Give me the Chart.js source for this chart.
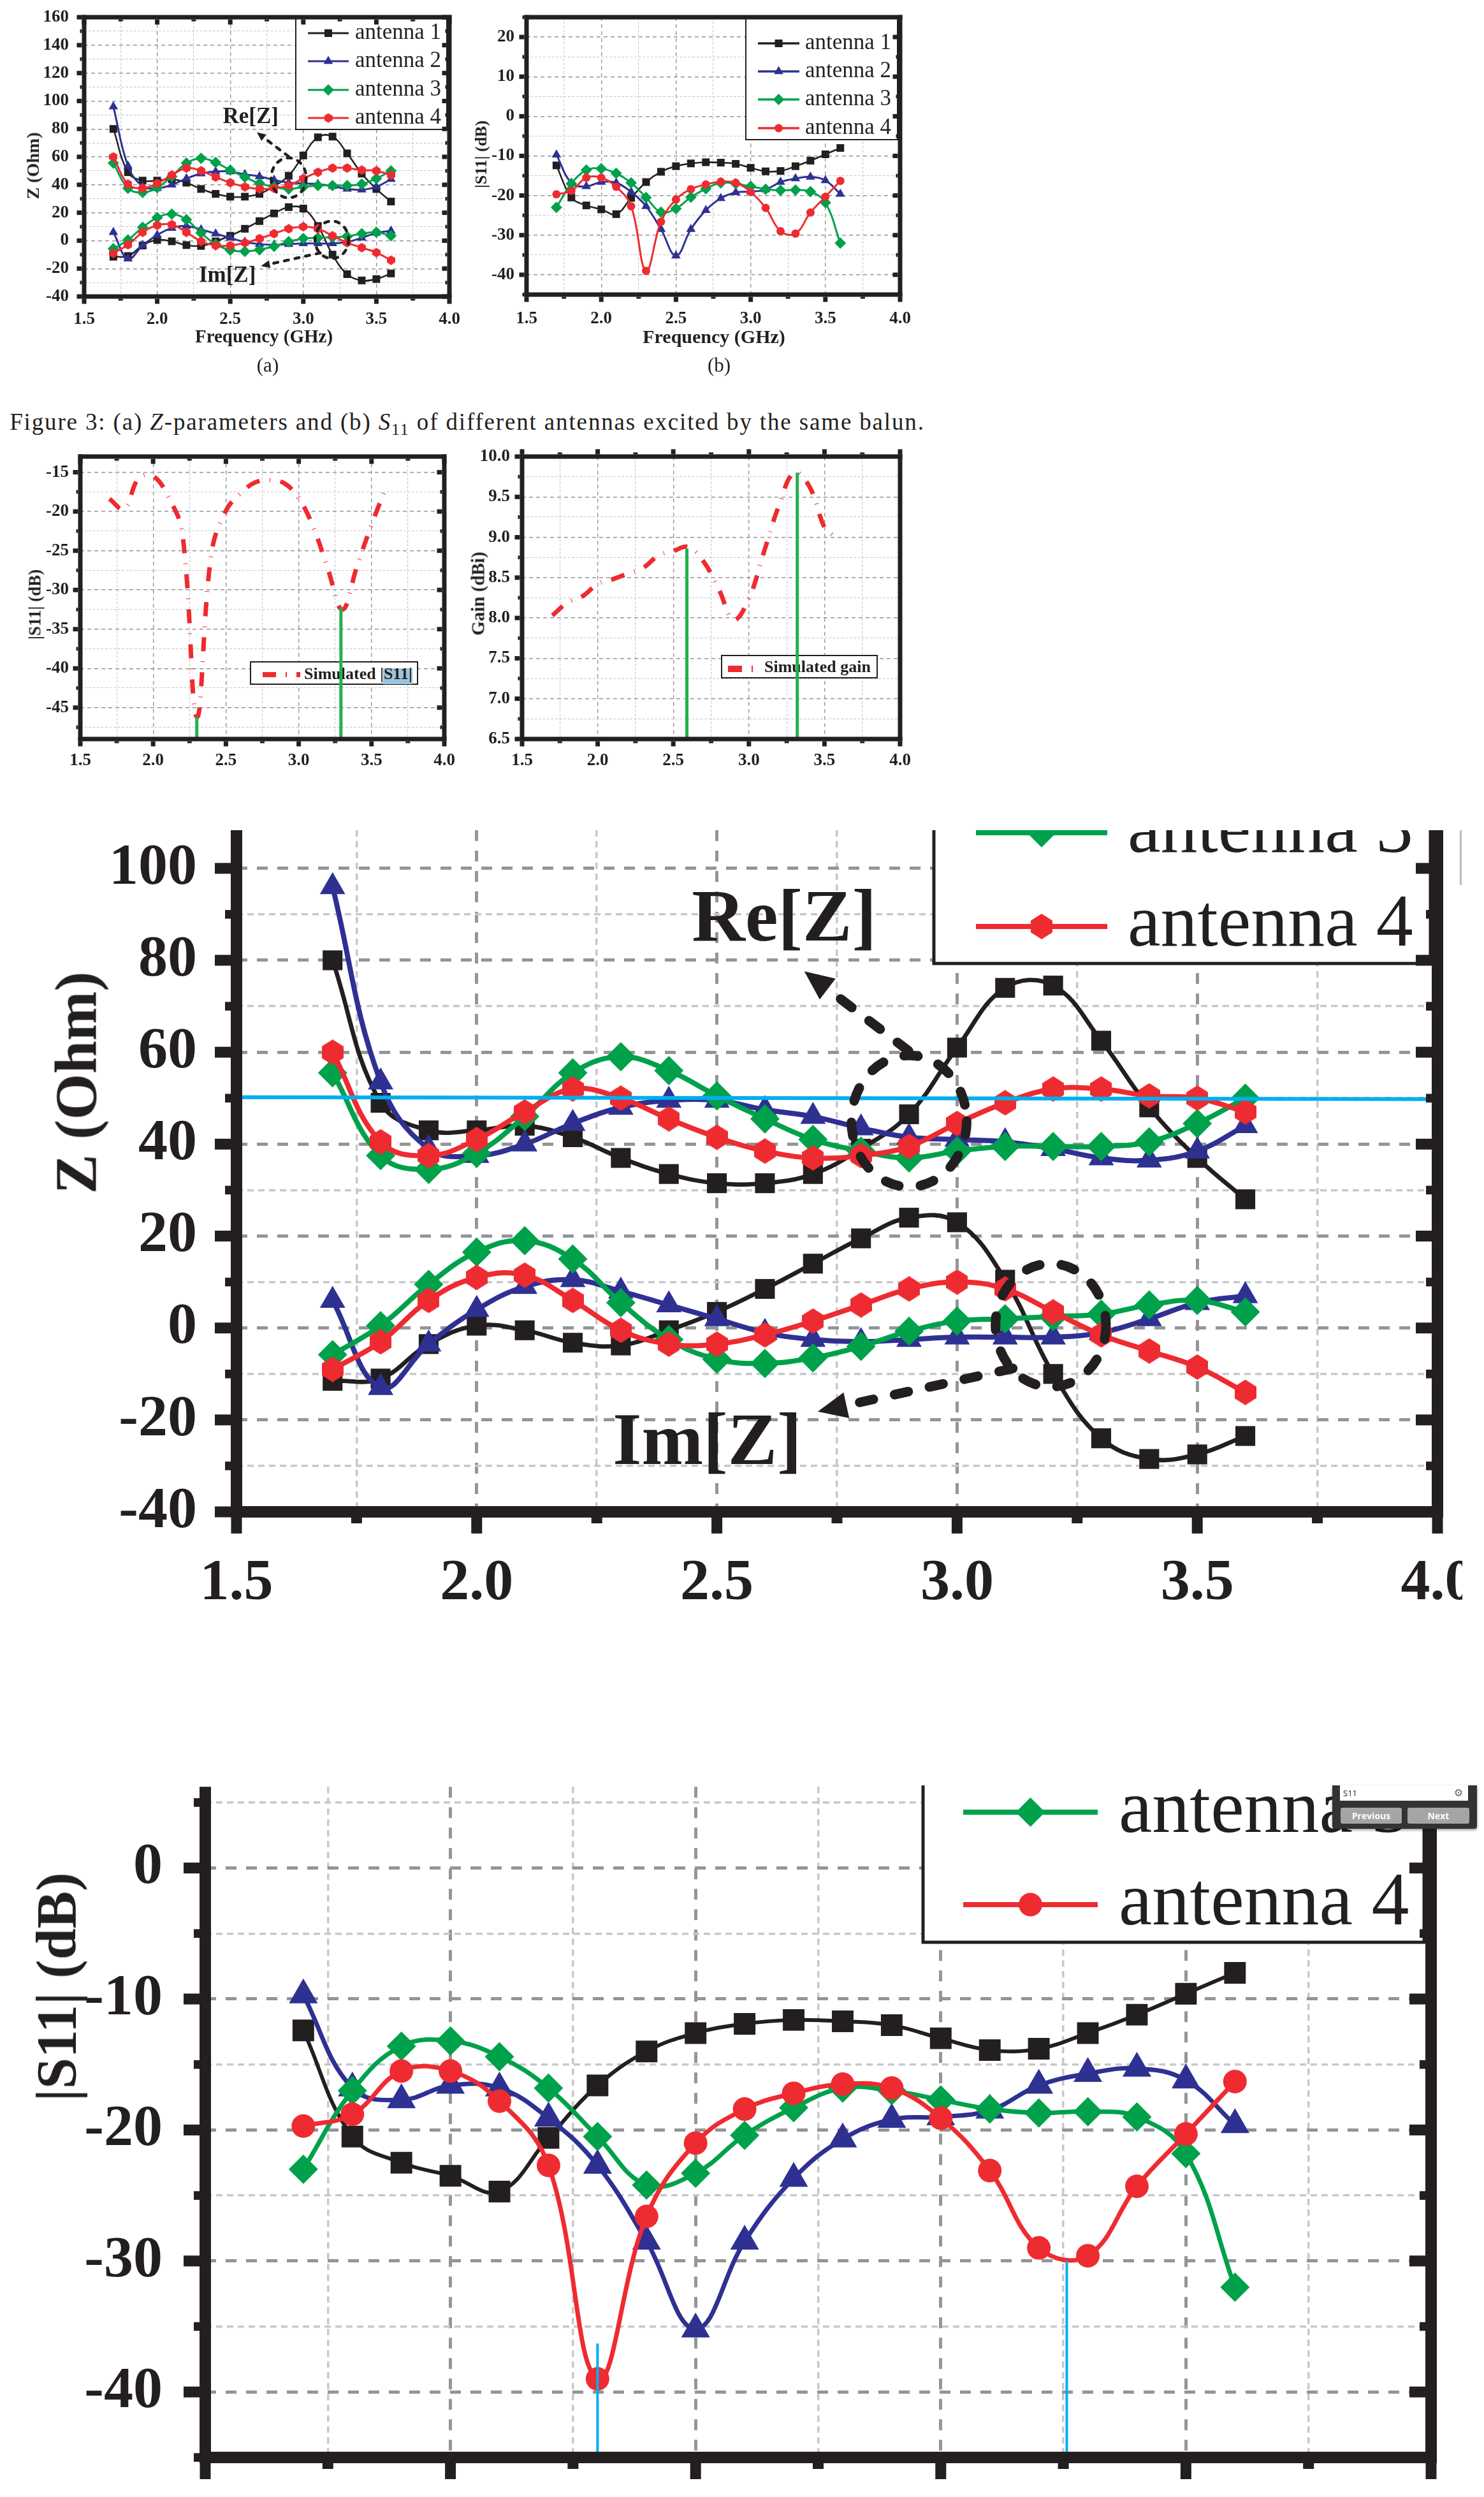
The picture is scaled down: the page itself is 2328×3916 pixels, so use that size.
<!DOCTYPE html>
<html>
<head>
<meta charset="utf-8">
<title>Z-parameters and S11</title>
<script src="https://cdn.jsdelivr.net/npm/chart.js@4/dist/chart.umd.js"></script>
<style>
html, body { margin: 0; padding: 0; background: #fff; }
#page { position: relative; width: 2328px; height: 3916px; overflow: hidden; background: #fff; font-family: "Liberation Serif", serif; color: #231f20; }
.clip { position: absolute; overflow: hidden; }
.clip canvas { position: absolute; }
.lbl { position: absolute; white-space: nowrap; transform: translate(-50%, -50%); line-height: 1; }
.lbl.rot { transform: translate(-50%, -50%) rotate(-90deg); }
#popup { position: absolute; left: 2090px; top: 2800px; width: 227px; height: 68px; background: #333; border-radius: 0 0 4px 4px; box-shadow: 0 2px 4px rgba(0,0,0,.4); font-family: "Open Sans", sans-serif; }
#popup .head { position: absolute; left: 12px; top: 0; width: 201px; height: 24px; background: #fff; color: #222; font-size: 13px; line-height: 24px; }
#popup .head span { margin-left: 5px; }
#popup .gear { position: absolute; right: 8px; top: 0; font-family: "DejaVu Sans"; font-size: 16px; color: #666; line-height: 24px; }
#popup .btn { position: absolute; top: 35px; height: 25px; background: #a5a5a5; border-radius: 3px; color: #fff; font-weight: 700; font-size: 14px; line-height: 25px; text-align: center; }
</style>
</head>
<body>
<div id="page"></div>
<script>
/*===== DATA =====*/

const freq = [1.7, 1.8, 1.9, 2.0, 2.1, 2.2, 2.3, 2.4, 2.5, 2.6, 2.7, 2.8, 2.9, 3.0, 3.1, 3.2, 3.3, 3.4, 3.5, 3.6];
const seriesNames = ["antenna 1", "antenna 2", "antenna 3", "antenna 4"];

const reZ1 = [80, 49, 43, 43, 44, 41.5, 37, 33.5, 31.5, 31.5, 33.5, 39, 46.5, 61, 74, 74.5, 62.5, 48, 37, 28];
const reZ2 = [96, 53.5, 39, 37.5, 40, 44.5, 48, 49.5, 49.5, 47.5, 46, 43.5, 41.5, 41, 40.5, 39, 37, 36.5, 38.5, 44];
const reZ3 = [55.5, 37.5, 34.5, 38, 46, 55.5, 59, 56, 50.5, 45.5, 41, 38.5, 37, 38.5, 39.5, 39.5, 39.5, 40.5, 44.5, 50];
const reZ4 = [60, 40.5, 37.5, 41, 47, 52, 50, 45.5, 41.5, 38.5, 37, 37.5, 39.5, 44.5, 49, 52, 52, 50.5, 50, 47];

const imZ1 = [-11.5, -11, -3.5, 0.5, -0.5, -3.2, -3.8, -0.5, 3.5, 8.5, 14, 19.5, 24, 23, 10.5, -10, -24, -28.5, -27.5, -23.5];
const imZ2 = [6, -13, -3.5, 4, 9, 10.5, 8, 5, 2, -1, -2.5, -3, -2.5, -2, -2, -2, -1, 2, 5.5, 7];
const imZ3 = [-5.8, 0.5, 9.5, 16.5, 19, 15, 5.5, -2.5, -6.8, -7.7, -6.5, -4, -0.7, 1.5, 2, 2.5, 3, 5, 6, 3.5];
const imZ4 = [-9, -3, 6, 11, 11.5, 6, -0.5, -3.5, -3.5, -1.5, 1.5, 5, 8.5, 10, 8.5, 3.5, -1.5, -5, -8.5, -14];

const s11Ant1 = [-12.4, -20.5, -22.5, -23.5, -24.7, -20.6, -16.6, -14, -12.6, -11.9, -11.6, -11.7, -12, -13, -13.9, -13.8, -12.6, -11.2, -9.6, -8];
const s11Ant2 = [-9.7, -16.8, -17.7, -16.6, -16.8, -19.1, -22.7, -28.5, -35.2, -28.5, -23.7, -20.7, -19.2, -19, -18.5, -16.6, -15.7, -15.3, -16.2, -19.6];
const s11Ant3 = [-23, -17, -13.6, -13.2, -14.4, -16.8, -20.5, -24.2, -23.3, -20.4, -18.3, -16.8, -17, -17.7, -18.4, -18.7, -18.6, -19, -21.8, -32];
const s11Ant4 = [-19.7, -18.8, -15.5, -15.5, -17.8, -22.7, -39, -26.6, -21, -18.4, -17.2, -16.5, -16.8, -19.1, -23.1, -29, -29.6, -24.3, -20.3, -16.3];

const simS11 = [-18.4, -19.7, -15.8, -15.5, -18, -22.7, -46.2, -25.4, -19.9, -17.7, -16.3, -16, -16.4, -18.3, -22, -27.3, -32.5, -27, -21.7, -16.9];

const gainFreq = [1.7, 1.8, 1.9, 2.0, 2.1, 2.2, 2.3, 2.4, 2.5, 2.6, 2.7, 2.8, 2.9, 3.0, 3.1, 3.2, 3.3, 3.4, 3.5, 3.55];
const simGain = [8.03, 8.19, 8.27, 8.42, 8.48, 8.55, 8.62, 8.77, 8.83, 8.88, 8.7, 8.36, 7.98, 8.24, 8.82, 9.4, 9.8, 9.63, 9.12, 9.03];

// marker lines: [frequency, value the line stops at]
const s11Marks = [[2.3, -46.2], [3.29, -32.2]];
const gainMarks = [[2.59, 8.86], [3.32, 9.8]];
const zoomS11Marks = [[2.3, -36.3], [3.257, -30]];
const refLineX = [1.5, 4];
const refLineY = [50.2, 49.8];

/*===== STYLES =====*/

const BLACK = "#231f20", BLUE = "#2e3192", GREEN = "#00a14b", RED = "#ee2b30", SKY = "#00aeef", MARK_GREEN = "#22b14c";
const page = document.getElementById("page");

function hexagon(w, h, color) {
    var c = document.createElement("canvas");
    c.width = w; c.height = h;
    var g = c.getContext("2d");
    g.fillStyle = color;
    g.beginPath();
    g.moveTo(w / 2, 0); g.lineTo(w, h * 0.27); g.lineTo(w, h * 0.73);
    g.lineTo(w / 2, h); g.lineTo(0, h * 0.73); g.lineTo(0, h * 0.27);
    g.closePath(); g.fill();
    return c;
}

const markersSmall = { rect: 8.5, triangle: 8.5, rectRot: 9 };
const markersBig = { rect: 22, triangle: 23, rectRot: 23 };
const markersF = { rect: 24, triangle: 26, rectRot: 23 };

function antennaSeries(lists, marks, red, width) {
    var colors = [BLACK, BLUE, GREEN, RED];
    var shapes = ["rect", "triangle", "rectRot", red.style];
    var out = [];
    lists.forEach((values, i) => {
        out.push({
            label: seriesNames[i],
            data: values.map((v, k) => ({ x: freq[k], y: v })),
            borderColor: colors[i],
            backgroundColor: colors[i],
            borderWidth: i === 0 ? width * 0.85 : width,
            tension: 0.4,
            pointStyle: shapes[i],
            pointRadius: i === 3 ? red.radius : marks[shapes[i]],
            pointBorderWidth: 0,
            pointHoverRadius: i === 3 ? red.radius : marks[shapes[i]]
        });
    });
    return out;
}

function markLines(marks, color, width, bottom) {
    return marks.map(m => ({
        label: "marker",
        data: [{ x: m[0], y: m[1] }, { x: m[0], y: bottom }],
        borderColor: color, borderWidth: width, pointRadius: 0, tension: 0
    }));
}

function dashedSeries(xs, ys, label) {
    return {
        label: label,
        data: ys.map((v, k) => ({ x: xs[k], y: v })),
        borderColor: RED, borderWidth: 7, borderDash: [22, 16, 1, 16],
        tension: 0.4, pointRadius: 0
    };
}

/*===== PLUGINS =====*/

const nearly = (v, step) => Math.abs(v / step - Math.round(v / step)) < 1e-6;

const framePlugin = {
    id: "frame",
    afterDatasetsDraw(chart, args, o) {
        const { ctx, chartArea: a, scales: { x, y } } = chart;
        const t = o.bar, hb = t / 2;
        ctx.save();
        ctx.fillStyle = BLACK;
        ctx.fillRect(a.left - hb, a.bottom - hb, a.right - a.left + t, t);
        if (o.top) ctx.fillRect(a.left - hb, a.top - hb, a.right - a.left + t, t);
        ctx.fillRect(a.left - hb, a.top - (o.top ? hb : 0), t, a.bottom - a.top + (o.top ? t : 0));
        ctx.fillRect(a.right - hb, a.top - (o.top ? hb : 0), t, a.bottom - a.top + (o.top ? t : 0));
        x.ticks.forEach(tk => {
            const len = nearly(tk.value, 0.5) ? o.major : o.minor, px = x.getPixelForValue(tk.value);
            ctx.fillRect(px - o.tick / 2, a.bottom + hb, o.tick, len);
            if (o.topTicks === "in") ctx.fillRect(px - o.tick / 2, a.top + hb, o.tick, len);
            if (o.topTicks === "out") ctx.fillRect(px - o.tick / 2, a.top - hb - len, o.tick, len);
        });
        y.ticks.forEach(tk => {
            const maj = nearly(tk.value, o.yMajor), len = maj ? o.major : o.minor, px = y.getPixelForValue(tk.value);
            const th = maj ? o.tick : o.tick * 0.8;
            ctx.fillRect(a.left - hb - len, px - th / 2, len, th);
            if (o.rightTicks) ctx.fillRect(a.right - hb - len, px - th / 2, len, th);
        });
        ctx.restore();
    }
};

// legend box placed at fixed page position, white backed
const boxPlugin = {
    id: "box",
    beforeDatasetsDraw(chart, args, o) {
        if (!o.rect) return;
        const ctx = chart.ctx, ox = o.originX, oy = o.originY, r = o.rect;
        ctx.save();
        ctx.fillStyle = "#fff";
        ctx.strokeStyle = BLACK;
        ctx.lineWidth = o.border;
        ctx.fillRect(r[0] - ox, r[1] - oy, r[2] - r[0], r[3] - r[1]);
        ctx.strokeRect(r[0] - ox, r[1] - oy, r[2] - r[0], r[3] - r[1]);
        if (o.highlight) {
            ctx.fillStyle = "#9dc3dd";
            ctx.fillRect(o.highlight[0] - ox, o.highlight[1] - oy, o.highlight[2], o.highlight[3]);
        }
        ctx.textBaseline = "middle";
        ctx.textAlign = "left";
        ctx.font = o.font;
        (o.rows || []).forEach(row => {
            ctx.strokeStyle = row.color;
            ctx.lineWidth = o.lineWidth;
            ctx.beginPath();
            ctx.moveTo(o.line[0] - ox, row.y - oy);
            ctx.lineTo(o.line[1] - ox, row.y - oy);
            ctx.stroke();
            ctx.fillStyle = row.color;
            Chart.helpers.drawPoint(ctx, { pointStyle: row.style, radius: row.radius, borderWidth: 0, rotation: 0 }, (o.line[0] + o.line[1]) / 2 - ox, row.y - oy);
            ctx.fillStyle = BLACK;
            ctx.fillText(row.text, o.textX - ox, row.y - oy);
        });
        (o.samples || []).forEach(s => {
            ctx.fillStyle = RED;
            ctx.fillRect(s[0] - ox, s[1] - oy, s[2], s[3]);
        });
        if (o.sampleText) {
            ctx.fillStyle = BLACK;
            ctx.fillText(o.sampleText, o.textX - ox, o.textY - oy);
        }
        ctx.restore();
    }
};

// Re[Z] and Im[Z] callouts, given in axis values so they fit both Z panels
const calloutPlugin = {
    id: "callout",
    afterDatasetsDraw(chart, args, o) {
        if (!o.on) return;
        const { ctx, scales: { x, y } } = chart;
        const k = o.scale;
        function arrow(x0, y0, x1, y1) {
            const ax = x.getPixelForValue(x0), ay = y.getPixelForValue(y0);
            const bx = x.getPixelForValue(x1), by = y.getPixelForValue(y1);
            const ang = Math.atan2(by - ay, bx - ax), head = 42 * k;
            ctx.beginPath();
            ctx.moveTo(ax, ay);
            ctx.lineTo(bx - Math.cos(ang) * head, by - Math.sin(ang) * head);
            ctx.stroke();
            ctx.save();
            ctx.setLineDash([]);
            ctx.beginPath();
            ctx.moveTo(bx, by);
            ctx.lineTo(bx - Math.cos(ang - 0.42) * head * 1.2, by - Math.sin(ang - 0.42) * head * 1.2);
            ctx.lineTo(bx - Math.cos(ang + 0.42) * head * 1.2, by - Math.sin(ang + 0.42) * head * 1.2);
            ctx.closePath();
            ctx.fill();
            ctx.restore();
        }
        function ring(cx, cy, rx, ry) {
            const px = x.getPixelForValue(cx), py = y.getPixelForValue(cy);
            ctx.beginPath();
            ctx.ellipse(px, py, Math.abs(x.getPixelForValue(cx + rx) - px), Math.abs(y.getPixelForValue(cy + ry) - py), 0, 0, Math.PI * 2);
            ctx.stroke();
        }
        ctx.save();
        ctx.strokeStyle = BLACK;
        ctx.fillStyle = BLACK;
        ctx.lineWidth = 15 * k;
        ctx.lineCap = "round";
        ctx.setLineDash([22 * k, 34 * k]);
        ring(2.9, 45, 0.12, 14.3);
        ring(3.195, 0.6, 0.115, 13.4);
        arrow(2.899, 60.3, 2.682, 77.6);
        arrow(3.116, -8.8, 2.71, -18.2);
        ctx.setLineDash([]);
        ctx.textAlign = "center";
        ctx.textBaseline = "alphabetic";
        ctx.font = "bold " + Math.round(116 * k) + "px 'Liberation Serif'";
        ctx.fillText("Re[Z]", x.getPixelForValue(2.64), y.getPixelForValue(84.3));
        ctx.fillText("Im[Z]", x.getPixelForValue(2.48), y.getPixelForValue(-29.6));
        ctx.restore();
    }
};

/*===== CHARTS =====*/

function makePanel(p) {
    const over = 120;                       // spare canvas above and to the right, cut away by the clip div
    const cl = p.plot[0] - p.yw, ct = p.plot[1] - over;
    const cw = p.plot[2] - cl + over, ch = p.plot[3] - ct + p.xh;
    const clip = document.createElement("div");
    clip.className = "clip";
    clip.style.cssText = "left:" + p.clip[0] + "px;top:" + p.clip[1] + "px;width:" + (p.clip[2] - p.clip[0]) + "px;height:" + (p.clip[3] - p.clip[1]) + "px";
    const cv = document.createElement("canvas");
    cv.width = cw; cv.height = ch;
    cv.style.cssText = "left:" + (cl - p.clip[0]) + "px;top:" + (ct - p.clip[1]) + "px;width:" + cw + "px;height:" + ch + "px";
    clip.appendChild(cv);
    page.appendChild(clip);

    const g = p.grid;
    const gridFor = major => ({
        drawTicks: false,
        color: c => major(c.tick) ? "#939598" : "#c7c8ca",
        lineWidth: c => major(c.tick) ? g.majorW : g.minorW
    });
    const isXMajor = t => t && nearly(t.value, 0.5);
    const isYMajor = t => t && nearly(t.value, p.yMajor);
    const keepInside = s => { s.ticks = s.ticks.filter(t => t.value >= s.min - 1e-9 && t.value <= s.max + 1e-9); };

    new Chart(cv, {
        type: "line",
        data: { datasets: p.datasets },
        options: {
            responsive: false,
            animation: false,
            devicePixelRatio: 1,
            events: [],
            layout: { padding: { top: over, right: over, left: 0, bottom: 0 } },
            scales: {
                x: {
                    type: "linear", min: 1.5, max: 4,
                    afterBuildTicks: keepInside,
                    afterFit: s => { s.height = p.xh; },
                    grid: gridFor(isXMajor),
                    border: { display: false, dash: c => isXMajor(c.tick) ? g.majorDash : g.minorDash },
                    ticks: {
                        stepSize: 0.25, includeBounds: false, autoSkip: false, maxRotation: 0, minRotation: 0,
                        display: p.xLabels, padding: p.xPad, color: BLACK,
                        font: { family: "Liberation Serif", weight: "bold", size: p.font },
                        callback: v => nearly(v, 0.5) ? v.toFixed(1) : ""
                    }
                },
                y: {
                    type: "linear", min: p.yMin, max: p.yMax,
                    afterBuildTicks: keepInside,
                    afterFit: s => { s.width = p.yw; },
                    grid: gridFor(isYMajor),
                    border: { display: false, dash: c => isYMajor(c.tick) ? g.majorDash : g.minorDash },
                    ticks: {
                        stepSize: p.yStep, includeBounds: false, autoSkip: false, padding: p.yPad, color: BLACK,
                        font: { family: "Liberation Serif", weight: "bold", size: p.font },
                        callback: v => nearly(v, p.yMajor) ? p.yFormat(v) : ""
                    }
                }
            },
            plugins: {
                legend: { display: false },
                title: { display: false },
                tooltip: { enabled: false },
                frame: Object.assign({ yMajor: p.yMajor }, p.frame),
                box: Object.assign({ originX: cl, originY: ct }, p.box),
                callout: p.callout || { on: false }
            }
        },
        plugins: [framePlugin, boxPlugin, calloutPlugin]
    });
}

function legendRows(ys, red, marks) {
    const colors = [BLACK, BLUE, GREEN, RED];
    const shapes = ["rect", "triangle", "rectRot", red.style];
    return ys.map((y, i) => ({
        y: y, color: colors[i], text: seriesNames[i], style: shapes[i],
        radius: i === 3 ? red.radius : marks[shapes[i]]
    }));
}

const smallGrid = { majorW: 1.4, minorW: 1.1, majorDash: [6, 5], minorDash: [4, 2.5] };
const bigGrid = { majorW: 5, minorW: 3.5, majorDash: [17, 15], minorDash: [10, 7] };
const smallFrame = { bar: 7, tick: 7, major: 8, minor: 3, top: true, topTicks: "in", rightTicks: true };
const bigFrame = { bar: 18, tick: 17, major: 25, minor: 9, top: false, topTicks: "none", rightTicks: true };

const hexSmall = { style: hexagon(13, 15, RED), radius: 7 };
const hexBig = { style: hexagon(34, 40, RED), radius: 18 };
const dotSmall = { style: "circle", radius: 6.5 };
const dotBig = { style: "circle", radius: 18.5 };

const zSets = (marks, red, width, refColor) => [
    {
        label: "50 ohm", data: refLineX.map((v, k) => ({ x: v, y: refLineY[k] })),
        borderColor: refColor, borderWidth: refColor === SKY ? 6 : 0, pointRadius: 0, tension: 0
    }
].concat(
    antennaSeries([reZ1, reZ2, reZ3, reZ4], marks, red, width).reverse(),
    antennaSeries([imZ1, imZ2, imZ3, imZ4], marks, red, width).reverse()
);

// (a) Z-parameters
makePanel({
    clip: [0, 0, 800, 540], plot: [132, 27, 705, 465], yw: 132, xh: 70, yMin: -40, yMax: 160, yStep: 10, yMajor: 20,
    yFormat: v => String(v), font: 27, yPad: 24, xPad: 20, xLabels: true, grid: smallGrid, frame: smallFrame,
    datasets: zSets(markersSmall, hexSmall, 3, "rgba(0,0,0,0)"),
    callout: { on: true, scale: 0.304 },
    box: { rect: [464, 29, 701, 203], border: 2, line: [483, 547], lineWidth: 3, textX: 557, font: "35px 'Liberation Serif'", rows: legendRows([52, 96, 141, 185], hexSmall, markersSmall) }
});

// (b) S11 of the four antennas
makePanel({
    clip: [700, 0, 1480, 540], plot: [826, 27, 1412, 462], yw: 126, xh: 70, yMin: -45, yMax: 25, yStep: 5, yMajor: 10,
    yFormat: v => String(v), font: 27, yPad: 19, xPad: 22, xLabels: true, grid: smallGrid,
    frame: Object.assign({}, smallFrame, { topTicks: "none" }),
    datasets: antennaSeries([s11Ant1, s11Ant2, s11Ant3, s11Ant4], markersSmall, dotSmall, 3).reverse(),
    box: { rect: [1170, 29, 1408, 219], border: 2, line: [1189, 1254], lineWidth: 3.5, textX: 1263, font: "35px 'Liberation Serif'", rows: legendRows([68, 112, 156, 201], dotSmall, markersSmall) }
});

// simulated S11
makePanel({
    clip: [0, 690, 760, 1215], plot: [126, 716, 697, 1159], yw: 126, xh: 56, yMin: -49, yMax: -13, yStep: 2.5, yMajor: 5,
    yFormat: v => String(v), font: 27, yPad: 18, xPad: 18, xLabels: true, grid: smallGrid, frame: smallFrame,
    datasets: markLines(s11Marks, MARK_GREEN, 5, -49).concat([dashedSeries(freq, simS11, "Simulated |S11|")]),
    box: {
        rect: [393, 1038, 655, 1073], border: 2, textX: 477, textY: 1058, font: "bold 26px 'Liberation Serif'",
        highlight: [601, 1048, 46, 25], samples: [[412, 1054, 21, 8], [448, 1054, 2, 8], [465, 1054, 6, 8]], sampleText: "Simulated |S11|"
    }
});

// simulated gain
makePanel({
    clip: [740, 690, 1480, 1215], plot: [819, 716, 1412, 1159], yw: 79, xh: 56, yMin: 6.5, yMax: 10, yStep: 0.25, yMajor: 0.5,
    yFormat: v => v.toFixed(1), font: 27, yPad: 19, xPad: 18, xLabels: true, grid: smallGrid,
    frame: Object.assign({}, smallFrame, { topTicks: "out", rightTicks: false }),
    datasets: markLines(gainMarks, MARK_GREEN, 5, 6.5).concat([dashedSeries(gainFreq, simGain, "Simulated gain")]),
    box: {
        rect: [1132, 1028, 1376, 1063], border: 2, textX: 1199, textY: 1047, font: "bold 26px 'Liberation Serif'",
        samples: [[1142, 1044, 22, 10], [1179, 1044, 2, 10]], sampleText: "Simulated gain"
    }
});

// enlarged Z-parameters, cut at the top and right
makePanel({
    clip: [0, 1302, 2294, 2512], plot: [371, 1302, 2255, 2371], yw: 371, xh: 140, yMin: -40, yMax: 108.3, yStep: 10, yMajor: 20,
    yFormat: v => String(v), font: 92, yPad: 62, xPad: 58, xLabels: true, grid: bigGrid, frame: bigFrame,
    datasets: zSets(markersBig, hexBig, 8, SKY),
    callout: { on: true, scale: 1 },
    box: { rect: [1465, 1150, 2244, 1511], border: 5, line: [1531, 1737], lineWidth: 8, textX: 1769, font: "116px 'Liberation Serif'", rows: legendRows([1012, 1159, 1306, 1453], hexBig, markersBig) }
});

// enlarged S11, cut at the top, no x labels; the taller canvas is cut by the clip div
makePanel({
    clip: [0, 2800, 2300, 3916], plot: [322, 2800, 2245, 3854], yw: 322, xh: 140, yMin: -45, yMax: 6.2, yStep: 5, yMajor: 10,
    yFormat: v => String(v), font: 92, yPad: 67, xPad: 10, xLabels: false, grid: bigGrid, frame: bigFrame,
    datasets: markLines(zoomS11Marks, SKY, 4, -45).concat(antennaSeries([s11Ant1, s11Ant2, s11Ant3, s11Ant4], markersF, dotBig, 7).reverse()),
    box: { rect: [1448, 2650, 2234, 3046], border: 5, line: [1511, 1722], lineWidth: 8, textX: 1755, font: "118px 'Liberation Serif'", rows: legendRows([2552, 2697, 2842, 2987], dotBig, markersF) }
});

/*===== TEXT =====*/

const labels = [
    { html: "Frequency (GHz)", x: 414, y: 527, size: 29, bold: true },
    { html: "Frequency (GHz)", x: 1120, y: 528, size: 30, bold: true },
    { html: "Z (Ohm)", x: 52, y: 260, size: 28, bold: true, rot: true },
    { html: "|S11| (dB)", x: 755, y: 242, size: 26, bold: true, rot: true },
    { html: "|S11| (dB)", x: 55, y: 948, size: 27, bold: true, rot: true },
    { html: "Gain (dBi)", x: 750, y: 931, size: 29, bold: true, rot: true },
    { html: "Z (Ohm)", x: 119, y: 1698, size: 93, bold: true, rot: true },
    { html: "|S11| (dB)", x: 89, y: 3116, size: 88, bold: true, rot: true },
    { html: "(a)", x: 420, y: 572, size: 31 },
    { html: "(b)", x: 1128, y: 572, size: 31 },
    { html: "Figure 3: (a) <i>Z</i>-parameters and (b) <i>S</i><sub style='font-size:.7em;line-height:0'>11</sub> of different antennas excited by the same balun.", x: 733, y: 661, size: 37, spacing: 1.85 }
];

labels.forEach(l => {
    const d = document.createElement("div");
    d.className = "lbl" + (l.rot ? " rot" : "");
    d.innerHTML = l.html;
    d.style.left = l.x + "px";
    d.style.top = l.y + "px";
    d.style.fontSize = l.size + "px";
    if (l.bold) d.style.fontWeight = "bold";
    if (l.spacing) d.style.letterSpacing = l.spacing + "px";
    page.appendChild(d);
});

const sliver = document.createElement("div");
sliver.style.cssText = "position:absolute;left:2290px;top:1302px;width:3px;height:86px;background:#bdbdbd";
page.appendChild(sliver);

const popup = document.createElement("div");
popup.id = "popup";
popup.innerHTML = "<div class='head'><span>S11</span><div class='gear'>\u2699</div></div>"
    + "<div class='btn' style='left:13px;width:96px'>Previous</div><div class='btn' style='left:118px;width:97px'>Next</div>";
page.appendChild(popup);
</script>
</body>
</html>
